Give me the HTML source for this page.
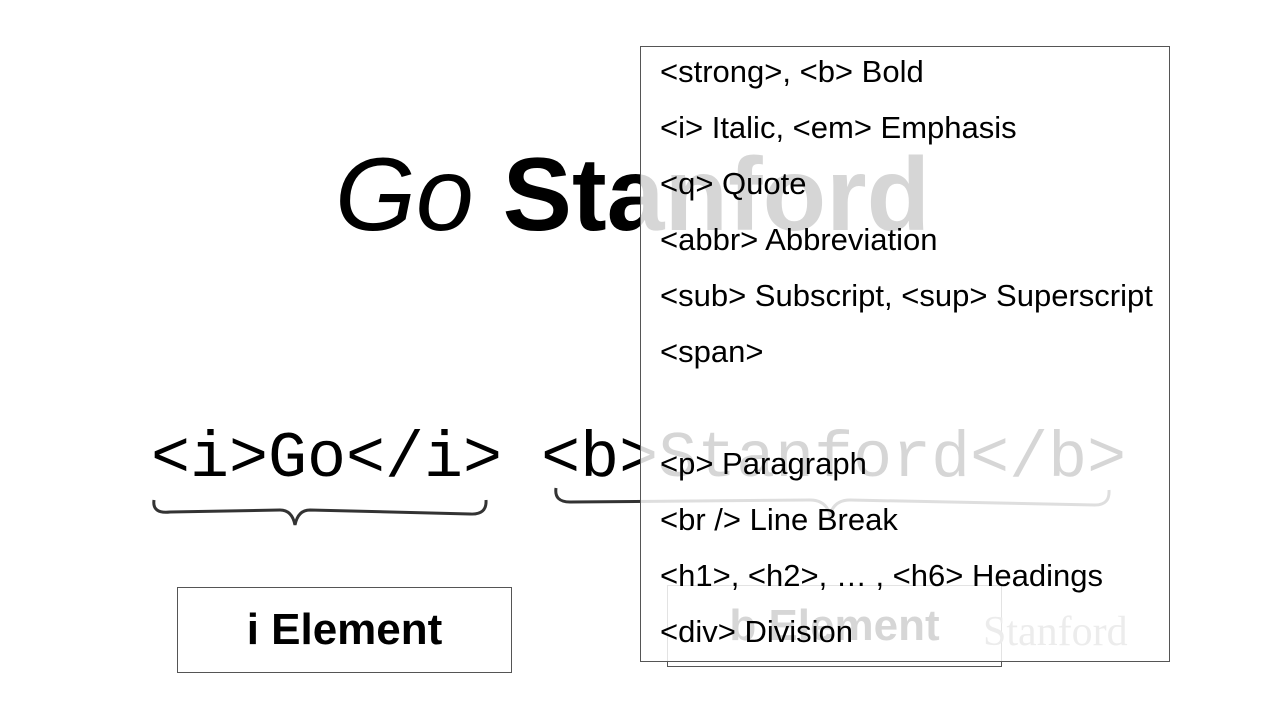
<!DOCTYPE html>
<html><head><meta charset="utf-8"><style>
body{margin:0;width:1280px;height:720px;background:#fff;position:relative;overflow:hidden;font-family:"Liberation Sans",sans-serif;}
.a{position:absolute;white-space:nowrap;}
.big{left:335px;top:130px;font-size:104px;line-height:130px;color:#000;}
.code{left:151px;top:419px;font-family:"Liberation Mono",monospace;font-size:65px;line-height:80px;color:#000;}
.box{position:absolute;border:1px solid #555;background:#fff;}
.lbl{font-weight:bold;font-size:44px;text-align:center;}
.ov{position:absolute;left:640px;top:46px;width:528px;height:614px;border:1px solid #555;background:rgba(255,255,255,0.84);}
.ov div{position:absolute;left:19px;font-size:31px;line-height:36px;color:#000;white-space:nowrap;}
</style></head><body>
<div class="a big"><i>Go</i> <b>Stanford</b></div>
<div class="a code">&lt;i&gt;Go&lt;/i&gt; &lt;b&gt;Stanford&lt;/b&gt;</div>
<svg class="a" style="left:0;top:0" width="1280" height="720">
<path d="M154 500 Q152 514 170 512 L280 510 Q292 510 295 525 Q298 510 310 510 L470 514 Q487 515 486 500" fill="none" stroke="#333" stroke-width="3"/>
<path d="M556 488 Q554 502 570 502 L810 500 Q826 500 830 515 Q834 500 850 500 L1095 505 Q1110 505 1109 490" fill="none" stroke="#333" stroke-width="3"/>
</svg>
<div class="box lbl" style="left:177px;top:587px;width:333px;height:84px;line-height:84px;">i Element</div>
<div class="box lbl" style="left:667px;top:585px;width:333px;height:80px;line-height:80px;">b Element</div>
<div class="a" style="left:983px;top:608px;font-family:'Liberation Serif',serif;font-size:42px;color:#888;">Stanford</div>
<div class="ov">
<div style="top:7px">&lt;strong&gt;, &lt;b&gt; Bold</div>
<div style="top:63px">&lt;i&gt; Italic, &lt;em&gt; Emphasis</div>
<div style="top:119px">&lt;q&gt; Quote</div>
<div style="top:175px">&lt;abbr&gt; Abbreviation</div>
<div style="top:231px">&lt;sub&gt; Subscript, &lt;sup&gt; Superscript</div>
<div style="top:287px">&lt;span&gt;</div>
<div style="top:399px">&lt;p&gt; Paragraph</div>
<div style="top:455px">&lt;br /&gt; Line Break</div>
<div style="top:511px">&lt;h1&gt;, &lt;h2&gt;, … , &lt;h6&gt; Headings</div>
<div style="top:567px">&lt;div&gt; Division</div>
</div>
</body></html>
